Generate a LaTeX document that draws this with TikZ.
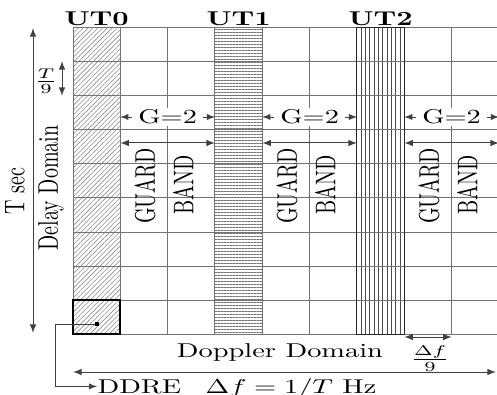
\documentclass[tikz,border=0pt]{standalone}
\usepackage{amsmath,amssymb}
\usetikzlibrary{patterns.meta}
\tikzset{
    gridline/.style={black!55,line width=0.5pt},
    dimline/.style={latex-latex,black!75,line width=0.5pt},
    wide/.style={xscale=1.42,inner sep=0pt},
    vwide/.style={xscale=1.42,rotate=90,inner sep=0pt},
}

\begin{document}
\begin{tikzpicture}[x=0.5pt,y=-0.5pt]
                \useasboundingbox (0,0) rectangle (497,395);
                \clip (0,0) rectangle (497,395);
                \def\cw{47.33}
                \def\rh{34}
                \fill[pattern={Lines[angle=45,distance=1.7pt,line width=0.3pt]},pattern color=black!45] (73,28) rectangle ({73+\cw},334);
                \fill[pattern={Lines[angle=0,distance=1.5pt,line width=0.3pt]},pattern color=black!55] ({73+3*\cw},28) rectangle ({73+4*\cw},334);
                \foreach \i in {1,...,10}
                    \draw[black!70,line width=0.4pt] ({73+6*\cw+\i*\cw/11},28) -- ({73+6*\cw+\i*\cw/11},334);
                \foreach \i in {0,...,9}
                    \draw[gridline] ({73+\i*\cw},28) -- ({73+\i*\cw},334);
                \foreach \j in {0,...,9}
                    \draw[gridline] (73,{28+\j*\rh}) -- (499,{28+\j*\rh});
                \draw[black!85,line width=0.5pt] ({73+6*\cw},28) rectangle ({73+7*\cw},334);
                \draw[line width=1pt] (73,{28+8*\rh}) rectangle ({73+\cw},334);

                \node[wide,anchor=base,font=\bfseries] (ut0) at ({73+0.5*\cw},26) {UT0};
                \node[wide,anchor=base,font=\bfseries] (ut1) at ({73+3.5*\cw},26) {UT1};
                \node[wide,anchor=base,font=\bfseries] (ut2) at ({73+6.5*\cw},26) {UT2};

                \coordinate (ttop) at (33,28);
                \coordinate (tbot) at (33,333);
                \draw[dimline] (ttop) -- (tbot);
                \node[vwide] (tsec) at (15,191) {T sec};
                \node[vwide] (delay) at (51,188) {Delay Domain};
                \node[wide] (tfrac) at (46,81) {$\frac{T}{9}$};
                \coordinate (rowa) at (62,61);
                \coordinate (rowb) at (62,96);
                \draw[dimline] (rowa) -- (rowb);

                \foreach \k in {0,1,2}{
                    \pgfmathsetmacro\xl{73+(1+3*\k)*\cw}
                    \pgfmathsetmacro\xr{\xl+2*\cw}
                    \node[wide,fill=white,inner xsep=2pt,inner ysep=1pt] (gsize\k) at ({(\xl+\xr)/2},117) {G=2};
                    \coordinate (gleft\k) at (\xl,117);
                    \coordinate (gright\k) at (\xr,117);
                    \draw[-latex,black!75] (gsize\k.west) -- (gleft\k);
                    \draw[-latex,black!75] (gsize\k.east) -- (gright\k);
                    \coordinate (bleft\k) at (\xl,143);
                    \coordinate (bright\k) at (\xr,143);
                    \draw[dimline] (bleft\k) -- (bright\k);
                    \node[vwide] (guard\k) at ({\xl+0.5*\cw+1},186) {GUARD};
                    \node[vwide] (band\k) at ({\xl+1.5*\cw-8},185) {BAND};
                }

                \node[wide,anchor=base] (doppler) at (280,357) {Doppler Domain};
                \coordinate (dleft) at ({73+7*\cw},337);
                \coordinate (dright) at ({73+8*\cw},337);
                \draw[dimline] (dleft) -- (dright);
                \node[wide] (dfrac) at (430,359) {$\frac{\Delta f}{9}$};
                \coordinate (fleft) at (73,372);
                \coordinate (fright) at (496,372);
                \draw[dimline] (fleft) -- (fright);

                \node[wide,anchor=base west] (ddre) at (97,393) {DDRE};
                \node[wide,anchor=base] (spacing) at (291,393) {$\Delta f = 1/T$ Hz};
                \node[fill,inner sep=0pt,minimum size=1.6pt] (dot) at (97,324) {};
                \coordinate (bend) at (55,324);
                \draw[-latex,black!75] (dot.west) -- (bend) |- (ddre.west);
            \end{tikzpicture}
\end{document}
